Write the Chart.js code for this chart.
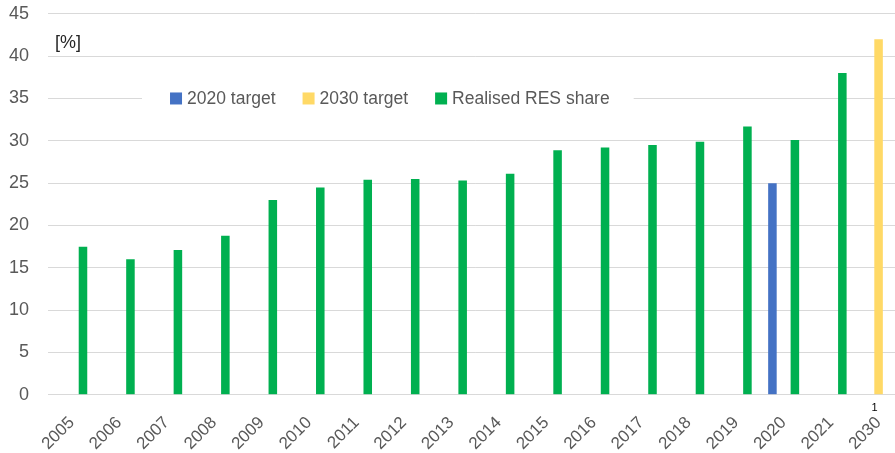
<!DOCTYPE html>
<html lang="en">
<head>
    <meta charset="UTF-8">
    <script src="https://cdn.jsdelivr.net/npm/chart.js@4.2.1/dist/chart.umd.min.js"></script>
    <title>RES share</title>
    <style>
        html, body { margin: 0; padding: 0; overflow: hidden; background: #fff; }
        #wrap { position: relative; width: 895px; height: 453px; overflow: hidden; }
        #chart { position: absolute; left: -10px; top: -16px; }
    </style>
</head>
<body>
    <div id="wrap"><canvas id="chart" width="913" height="480"></canvas></div>

    <script>
        const years = ['2005', '2006', '2007', '2008', '2009', '2010', '2011', '2012', '2013',
            '2014', '2015', '2016', '2017', '2018', '2019', '2020', '2021', '2030'];
        const target2020 = [null, null, null, null, null, null, null, null, null,
            null, null, null, null, null, null, 25, null, null];
        const target2030 = [null, null, null, null, null, null, null, null, null,
            null, null, null, null, null, null, null, null, 42];
        const realised = [17.5, 16.0, 17.1, 18.8, 23.0, 24.5, 25.4, 25.5, 25.3,
            26.1, 28.9, 29.2, 29.5, 29.9, 31.7, 30.1, 38.0, null];
        const seriesNames = ['2020 target', '2030 target', 'Realised RES share'];
        const unitLabel = '[%]';
        const footnote = '1';

        const fontFamily = "'Liberation Sans', Arial, sans-serif";
        const textGrey = '#595959';

        // legend drawn inside the plot on a white band, plus the unit label and footnote
        const extras = {
            id: 'extras',
            afterDraw(chart) {
                const ctx = chart.ctx;
                const area = chart.chartArea;
                const x = chart.scales.x;
                const y = chart.scales.y;
                ctx.save();

                ctx.fillStyle = '#262626';
                ctx.font = '18px ' + fontFamily;
                ctx.textBaseline = 'middle';
                ctx.textAlign = 'left';
                ctx.fillText(unitLabel, area.left + 7, y.getPixelForValue(41.6));

                ctx.font = '17.5px ' + fontFamily;
                const ly = y.getPixelForValue(35);
                const box = 12, gap = 5, spacing = 27;
                let total = 0;
                chart.data.datasets.forEach((ds, i) => {
                    total += box + gap + ctx.measureText(ds.label).width;
                    if (i > 0) total += spacing;
                });
                let lx = area.left + 122;
                ctx.fillStyle = '#fff';
                ctx.fillRect(lx - 28, ly - 11, total + 52, 22);
                chart.data.datasets.forEach(ds => {
                    ctx.fillStyle = ds.backgroundColor;
                    ctx.fillRect(lx, ly - box / 2, box, box);
                    ctx.fillStyle = textGrey;
                    ctx.fillText(ds.label, lx + box + gap, ly + 1);
                    lx += box + gap + ctx.measureText(ds.label).width + spacing;
                });

                ctx.fillStyle = '#000';
                ctx.font = '11px ' + fontFamily;
                ctx.textAlign = 'center';
                ctx.fillText(footnote, x.getPixelForValue(years.length - 1) - 4, area.bottom + 13);
                ctx.restore();
            }
        };

        new Chart(document.getElementById('chart'), {
            type: 'bar',
            data: {
                labels: years,
                datasets: [
                    { label: seriesNames[0], data: target2020, backgroundColor: '#4472C4' },
                    { label: seriesNames[1], data: target2030, backgroundColor: '#FFD966' },
                    { label: seriesNames[2], data: realised, backgroundColor: '#00B050' }
                ]
            },
            options: {
                responsive: false,
                animation: false,
                categoryPercentage: 0.71,
                barPercentage: 0.76,
                layout: { padding: { top: 4, right: 0, left: 0, bottom: 0 } },
                plugins: {
                    legend: { display: false },
                    tooltip: { enabled: false }
                },
                scales: {
                    x: {
                        grid: { display: false },
                        border: { color: '#d9d9d9' },
                        ticks: {
                            color: textGrey,
                            font: { family: fontFamily, size: 17 },
                            maxRotation: 45,
                            minRotation: 45,
                            padding: 10
                        }
                    },
                    y: {
                        min: 0,
                        max: 45,
                        border: { display: false },
                        grid: { color: '#d9d9d9', drawTicks: false },
                        ticks: {
                            stepSize: 5,
                            color: textGrey,
                            font: { family: fontFamily, size: 18 },
                            padding: 19
                        }
                    }
                }
            },
            plugins: [extras]
        });
    </script>
</body>
</html>
